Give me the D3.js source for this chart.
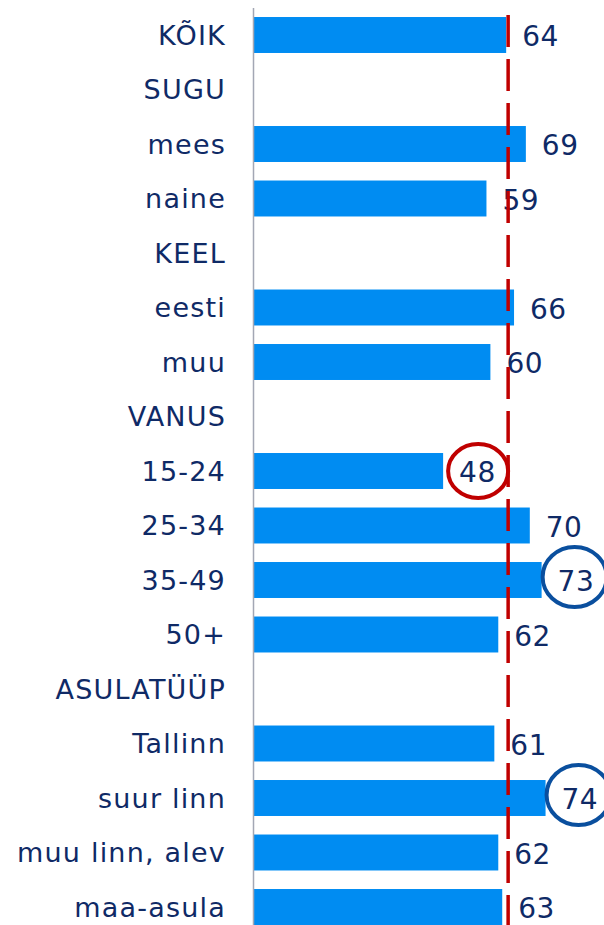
<!DOCTYPE html>
<html>
<head>
<meta charset="utf-8">
<script src="https://cdn.jsdelivr.net/npm/d3@7"></script>
<style>
  html, body { margin: 0; padding: 0; background: #ffffff; }
  svg { display: block; }
</style>
</head>
<body>
<div id="chart"></div>
<script>
// Row labels, top to bottom; group headers carry no value
const categories = ["KÕIK", "SUGU", "mees", "naine", "KEEL", "eesti", "muu", "VANUS",
  "15-24", "25-34", "35-49", "50+", "ASULATÜÜP", "Tallinn", "suur linn", "muu linn, alev", "maa-asula"];
const values = [64, null, 69, 59, null, 66, 60, null, 48, 70, 73, 62, null, 61, 74, 62, 63];
// Reference level (overall average)
const averageLine = [64.5];
// Values marked as below / above the average
const lowMarks = ["15-24"];
const highMarks = ["35-49", "suur linn"];

const W = 604, H = 925;
const svg = d3.select("#chart").append("svg").attr("width", W).attr("height", H);

const x = d3.scaleLinear().domain([0, 100]).range([254, 648]);
const y = d3.scaleBand().domain(categories).range([7.75, 934.25])
  .paddingInner(0.34).paddingOuter(0.17);

const textColor = "#0f2a66";
const font = "'DejaVu Sans', Verdana, sans-serif";

const rows = categories.map((c, i) => ({ cat: c, v: values[i] }));
const data = rows.filter(d => d.v !== null);

// bars
svg.append("g").selectAll("rect").data(data).join("rect")
  .attr("x", x(0))
  .attr("y", d => y(d.cat))
  .attr("width", d => x(d.v) - x(0))
  .attr("height", y.bandwidth())
  .attr("fill", "#008cf2");

// vertical axis line
svg.append("line")
  .attr("x1", x(0) - 0.5).attr("x2", x(0) - 0.5)
  .attr("y1", 8).attr("y2", H)
  .attr("stroke", "#a3a7b4").attr("stroke-width", 1.5);

// category labels
svg.append("g").selectAll("text").data(rows).join("text")
  .attr("x", 226)
  .attr("y", d => y(d.cat) + y.bandwidth() / 2)
  .attr("dy", "0.36em")
  .attr("text-anchor", "end")
  .attr("font-family", font).attr("font-size", 27)
  .attr("letter-spacing", "1.2px")
  .attr("fill", textColor)
  .text(d => d.cat);

// value labels
const labelX = d => x(d.v) + 16;
svg.append("g").selectAll("text").data(data).join("text")
  .attr("x", labelX)
  .attr("y", d => y(d.cat) + y.bandwidth() / 2 + 1)
  .attr("dy", "0.36em")
  .attr("font-family", font).attr("font-size", 28)
  .attr("letter-spacing", "0.5px")
  .attr("fill", textColor)
  .text(d => d.v);

// highlight rings around marked values
const rings = svg.append("g");
data.forEach(d => {
  const cx = labelX(d) + 17;
  const cy = y(d.cat) + y.bandwidth() / 2;
  if (lowMarks.includes(d.cat)) {
    rings.append("ellipse")
      .attr("cx", cx + 2).attr("cy", cy)
      .attr("rx", 30).attr("ry", 27)
      .attr("fill", "none").attr("stroke", "#c00000").attr("stroke-width", 4);
  }
  if (highMarks.includes(d.cat)) {
    rings.append("ellipse")
      .attr("cx", cx).attr("cy", cy - 3)
      .attr("rx", 32).attr("ry", 30)
      .attr("fill", "none").attr("stroke", "#0a4f9e").attr("stroke-width", 4);
  }
});

// dashed average line
svg.append("g").selectAll("line").data(averageLine).join("line")
  .attr("x1", d => x(d)).attr("x2", d => x(d))
  .attr("y1", 15).attr("y2", H)
  .attr("stroke", "#c00000").attr("stroke-width", 3.5)
  .attr("stroke-dasharray", "32 12");
</script>
</body>
</html>
